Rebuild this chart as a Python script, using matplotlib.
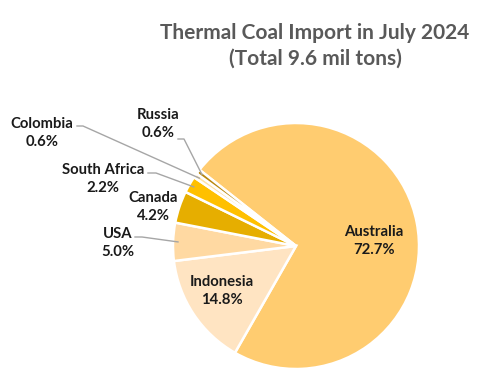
import numpy as np
import matplotlib
matplotlib.use("Agg")
import matplotlib.pyplot as plt

# import share by origin, July 2024 (percent)
countries = ["Australia", "Indonesia", "USA", "Canada", "South Africa", "Colombia", "Russia"]
shares = [72.7, 14.8, 5.0, 4.2, 2.2, 0.6, 0.6]
colors = ["#FFCC70", "#FFE4C2", "#FFD9A2", "#E6AE00", "#FFC000", "#FFE3A6", "#B8860B"]
title = "Thermal Coal Import in July 2024\n(Total 9.6 mil tons)"

plt.rcParams["font.family"] = ["Lato", "DejaVu Sans"]

W, H = 502, 389
fig = plt.figure(figsize=(W / 100, H / 100), dpi=100)

# pie centre / radius in pixels (from top-left)
cx, cy, r = 296, 246, 123
ax = fig.add_axes([(cx - r) / W, (H - cy - r) / H, 2 * r / W, 2 * r / H])

wedges, _ = ax.pie(shares, colors=colors, startangle=141.7, counterclock=False,
                   wedgeprops=dict(edgecolor="white", linewidth=1.8))
ax.set_xlim(-1, 1)
ax.set_ylim(-1, 1)
ax.set_aspect("equal")
ax.axis("off")


def px(x, y):
    # pixel -> data coords of the pie axes
    return (x - cx) / r, (cy - y) / r


# label centres (pixels) and optional leader line (start, elbow) in pixels
layout = {
    "Australia": ((374, 241), None),
    "Indonesia": ((222, 291), None),
    "USA": ((118, 243), [(135, 237), (142, 237)]),
    "Canada": ((153, 207), None),
    "South Africa": ((103, 179), [(148, 173), (156, 173)]),
    "Colombia": ((42, 133), [(77, 126), (83, 126)]),
    "Russia": ((158, 124), [(178, 139), (184, 139)]),
}

for w, name, val in zip(wedges, countries, shares):
    (lx, ly), line = layout[name]
    ax.text(*px(lx, ly), f"{name}\n{val:.1f}%", ha="center", va="center",
            fontsize=10.7, fontweight="bold", color="#1a1a1a", linespacing=1.45,
            clip_on=False)
    if line:
        mid = np.deg2rad((w.theta1 + w.theta2) / 2)
        end = (0.96 * np.cos(mid), 0.96 * np.sin(mid))
        pts = [px(*p) for p in line] + [end]
        xs, ys = zip(*pts)
        ax.plot(xs, ys, color="#A6A6A6", lw=1, clip_on=False)

fig.text(315 / W, 1 - 46 / H, title, ha="center", va="center", fontsize=15,
         fontweight="bold", color="#595959", linespacing=1.35)

fig.savefig("out.png", dpi=100)
